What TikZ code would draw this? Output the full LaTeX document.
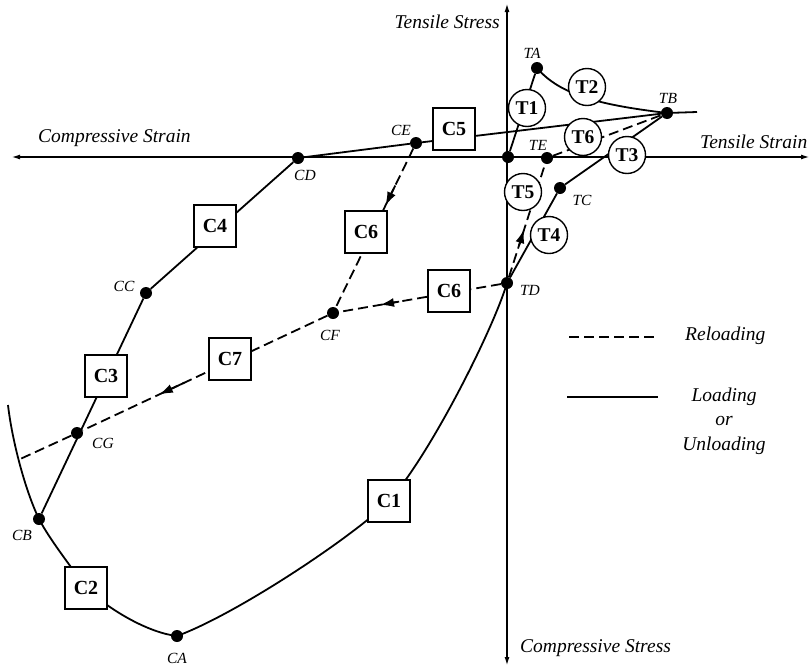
\documentclass[tikz,border=0pt]{standalone}
\usepackage{fontspec}
\setmainfont{Liberation Serif}
\usetikzlibrary{arrows.meta, calc}
\pgfdeclarelayer{background}
\pgfsetlayers{background,main}

\begin{document}
\begin{tikzpicture}[x=1pt, y=-1pt,
      dot/.style={circle, fill=black, inner sep=0pt, minimum size=12pt},
      cbox/.style={draw, fill=white, line width=1.4pt, minimum size=42pt, inner sep=0pt, font=\fontsize{20}{20}\selectfont\bfseries},
      tcirc/.style={draw, circle, fill=white, line width=1.4pt, minimum size=37pt, inner sep=0pt, font=\fontsize{19.5}{19.5}\selectfont\bfseries},
      ptlbl/.style={inner sep=0pt, font=\fontsize{15.5}{15.5}\selectfont\itshape},
      axlbl/.style={inner sep=0pt, font=\fontsize{19.5}{24.5}\selectfont\itshape},
      axis/.style={line width=1.1pt, {Latex[length=8pt,width=5pt]}-{Latex[length=8pt,width=5pt]}},
      load/.style={line width=1.8pt},
      reload/.style={line width=1.8pt, dash pattern=on 10pt off 5pt},
      arr/.style={line width=1.8pt, -{Latex[length=14pt,width=9pt]}}
    ]
      \useasboundingbox (0,0) rectangle (811,667);

      % axes
      \coordinate (xl) at (12,157);
      \coordinate (xr) at (809,157);
      \coordinate (yt) at (507,4);
      \coordinate (yb) at (507,665);
      \node[axlbl, anchor=base east] (tstress) at (500,28)  {Tensile Stress};
      \node[axlbl, anchor=base west] (cstrain) at (38,142)  {Compressive Strain};
      \node[axlbl, anchor=base west] (tstrain) at (700,148) {Tensile Strain};
      \node[axlbl, anchor=base west] (cstress) at (520,652) {Compressive Stress};

      % points
      \node[dot] (O)  at (508,157) {};
      \node[dot] (TA) at (537,68)  {};
      \node[dot] (TB) at (667,113) {};
      \node[dot] (TC) at (560,188) {};
      \node[dot] (TD) at (507,283) {};
      \node[dot] (TE) at (547,158) {};
      \node[dot] (CA) at (177,636) {};
      \node[dot] (CB) at (39,519)  {};
      \node[dot] (CC) at (146,293) {};
      \node[dot] (CD) at (298,158) {};
      \node[dot] (CE) at (416,143) {};
      \node[dot] (CF) at (333,313) {};
      \node[dot] (CG) at (77,433)  {};
      \coordinate (tbEnd)  at (697,112);
      \coordinate (arcEnd) at (8,405);
      \coordinate (cgEnd)  at (18,460);

      \node[ptlbl] (lTA) at (532,53)  {TA};
      \node[ptlbl] (lTB) at (668,98)  {TB};
      \node[ptlbl] (lTC) at (582,200) {TC};
      \node[ptlbl] (lTD) at (530,290) {TD};
      \node[ptlbl] (lTE) at (538,145) {TE};
      \node[ptlbl] (lCA) at (177,658) {CA};
      \node[ptlbl] (lCB) at (22,535)  {CB};
      \node[ptlbl] (lCC) at (124,286) {CC};
      \node[ptlbl] (lCD) at (305,175) {CD};
      \node[ptlbl] (lCE) at (401,130) {CE};
      \node[ptlbl] (lCF) at (330,335) {CF};
      \node[ptlbl] (lCG) at (103,443) {CG};

      % branch boxes
      \node[cbox] (C1)  at (389,501) {C1};
      \node[cbox] (C2)  at (86,588)  {C2};
      \node[cbox] (C3)  at (106,376) {C3};
      \node[cbox] (C4)  at (215,226) {C4};
      \node[cbox] (C5)  at (454,129) {C5};
      \node[cbox] (C6u) at (366,232) {C6};
      \node[cbox] (C6d) at (449,291) {C6};
      \node[cbox] (C7)  at (230,359) {C7};
      \node[tcirc] (T1) at (527,108) {T1};
      \node[tcirc] (T2) at (587,87)  {T2};
      \node[tcirc] (T3) at (627,155) {T3};
      \node[tcirc] (T4) at (549,235) {T4};
      \node[tcirc] (T5) at (523,192) {T5};
      \node[tcirc] (T6) at (583,137) {T6};

      % legend
      \coordinate (r1) at (569,337);
      \coordinate (r2) at (658,337);
      \coordinate (s1) at (567,397);
      \coordinate (s2) at (658,397);
      \node[axlbl, anchor=west] (lreload) at (685,336) {Reloading};
      \node[axlbl, align=center] (lload) at (724,421) {Loading\\or\\Unloading};

      \begin{pgfonlayer}{background}
        \draw[axis] (xl) -- (xr);
        \draw[axis] (yb) -- (yt);
        % envelope
        \draw[load] (TD.center) .. controls (493,330) and (430,455) .. (C1.center)
          .. controls (354,536) and (237,614) .. (CA.center)
          .. controls (150,633) and (112,612) .. (C2.center)
          .. controls (70,565) and (50,540) .. (CB.center)
          .. controls (25,490) and (12,440) .. (arcEnd);
        \draw[load] (CB) -- (CC) -- (CD) -- (CE) -- (TB) -- (tbEnd);
        \draw[load] (O) -- (TA);
        \draw[load] (TA.center) .. controls (560,95) and (600,105) .. (TB.center);
        \draw[load] (TD) -- (TC) -- (TB);
        % reloading
        \draw[reload] (TD) -- (TE);
        \draw[reload] (TE) -- (TB);
        \draw[reload] (CE) -- (CF);
        \draw[reload] (TD) -- (CF);
        \draw[reload] (CF) -- (CG);
        \draw[reload] (CG) -- (cgEnd);
        \draw[arr] ($(TD)!0.30!(TE)$) -- ($(TD)!0.43!(TE)$);
        \draw[arr] ($(CE)!0.25!(CF)$) -- ($(CE)!0.37!(CF)$);
        \draw[arr] ($(TD)!0.62!(CF)$) -- ($(TD)!0.73!(CF)$);
        \draw[arr] ($(CF)!0.58!(CG)$) -- ($(CF)!0.68!(CG)$);
        \draw[reload] (r1) -- (r2);
        \draw[load] (s1) -- (s2);
      \end{pgfonlayer}
    \end{tikzpicture}
\end{document}
